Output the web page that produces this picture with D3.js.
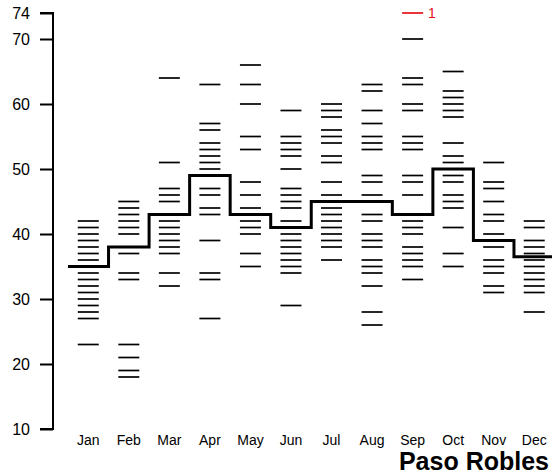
<!DOCTYPE html>
<html>
<head>
<meta charset="utf-8">
<script src="https://cdn.jsdelivr.net/npm/d3@7"></script>
<style>
  html, body { margin: 0; padding: 0; background: #fff; }
  svg { display: block; font-family: "Liberation Sans", Arial, sans-serif; }
</style>
</head>
<body>
<svg id="chart" width="552" height="476"></svg>
<script>
const months = ["Jan","Feb","Mar","Apr","May","Jun","Jul","Aug","Sep","Oct","Nov","Dec"];
const jan = [42,41,40,39,38,37,36,34,33,32,31,30,29,28,27,23];
const feb = [45,44,43,42,41,40,37,34,33,23,21,19,18];
const mar = [64,51,47,46,45,42,41,40,39,38,37,34,32];
const apr = [63,57,56,54,53,52,51,50,47,46,44,43,39,34,33,27];
const may = [66,63,60,55,53,48,46,44,42,41,40,37,35];
const jun = [59,55,54,53,52,50,47,46,45,44,42,40,39,38,37,36,35,34,29];
const jul = [60,59,58,56,55,54,52,51,48,46,44,43,42,41,40,39,38,36];
const aug = [63,62,59,57,55,54,53,49,48,46,43,42,40,39,38,36,35,34,32,28,26];
const sep = [70,64,63,60,59,55,54,53,49,48,46,42,41,40,38,37,36,35,33];
const oct = [65,62,61,60,59,58,54,52,51,49,48,46,45,44,41,37,35];
const nov = [51,48,47,45,43,42,40,38,36,35,34,32,31];
const dec = [42,41,39,38,37,36,35,34,33,32,31,28];
const monthValues = [jan,feb,mar,apr,may,jun,jul,aug,sep,oct,nov,dec];
const medians = [35,38,43,49,43,41,45,45,43,50,39,36.5];
const highlightMonth = "Sep";
const highlightValue = 74;
const highlightLabel = "1";
const yTicks = [10,20,30,40,50,60,70,74];
const title = "Paso Robles";

const svg = d3.select("#chart");
const x = d3.scaleBand().domain(months).range([68, 554.5]).padding(0);
const y = d3.scaleLinear().domain([10, 74]).range([429, 13]);
const half = 10.5;

// dashes
months.forEach((m, i) => {
  const cx = x(m) + x.bandwidth() / 2;
  svg.append("g").selectAll("line").data(monthValues[i]).join("line")
    .attr("x1", cx - half).attr("x2", cx + half)
    .attr("y1", d => y(d)).attr("y2", d => y(d))
    .attr("stroke", "#000").attr("stroke-width", 1.7);
});

// highlighted value
{
  const cx = x(highlightMonth) + x.bandwidth() / 2;
  svg.append("line")
    .attr("x1", cx - half).attr("x2", cx + half)
    .attr("y1", y(highlightValue)).attr("y2", y(highlightValue))
    .attr("stroke", "#e8111b").attr("stroke-width", 1.7);
  svg.append("text")
    .attr("x", cx + half + 5).attr("y", y(highlightValue) + 5)
    .attr("fill", "#e8111b").attr("font-size", 14)
    .text(highlightLabel);
}

// median step line
const stepData = [];
months.forEach((m, i) => {
  stepData.push([x(m), y(medians[i])]);
  stepData.push([x(m) + x.bandwidth(), y(medians[i])]);
});
svg.append("path")
  .attr("d", d3.line()(stepData))
  .attr("fill", "none").attr("stroke", "#000").attr("stroke-width", 3)
  .attr("stroke-linejoin", "miter");

// y axis
const yAxis = d3.axisLeft(y).tickValues(yTicks).tickSize(13).tickPadding(10).tickFormat(d3.format("d"));
const gy = svg.append("g").attr("transform", "translate(53,0)").call(yAxis);
gy.select(".domain").attr("stroke-width", 2).attr("d", `M-13,${y(74)}H0V${y(10)}H-13`);
gy.selectAll(".tick line").attr("stroke-width", 2);
gy.selectAll(".tick text").attr("font-size", 16).attr("fill", "#000")
  .attr("font-family", "'Liberation Sans', Arial, sans-serif");

// x labels
const xAxis = d3.axisBottom(x).tickSize(0).tickPadding(0);
const gx = svg.append("g").attr("transform", "translate(0,435)").call(xAxis);
gx.select(".domain").remove();
gx.selectAll(".tick text").attr("font-size", 14).attr("fill", "#000").attr("dy", "0.71em")
  .attr("font-family", "'Liberation Sans', Arial, sans-serif");

// title
svg.append("text")
  .attr("x", 549).attr("y", 470)
  .attr("text-anchor", "end")
  .attr("font-size", 25).attr("font-weight", "bold")
  .text(title);
</script>
</body>
</html>
